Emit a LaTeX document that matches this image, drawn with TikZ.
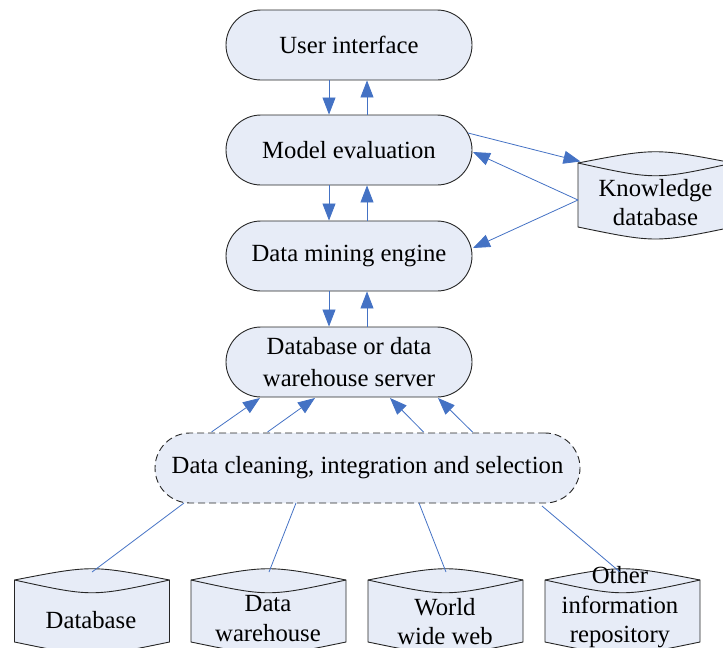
\documentclass[tikz,border=0pt]{standalone}
\usepackage{fontspec}
\setmainfont{Liberation Serif}
\usetikzlibrary{arrows.meta,calc}
\definecolor{lnblue}{RGB}{68,114,196}
\definecolor{boxfill}{RGB}{231,236,247}
\begin{document}
\begin{tikzpicture}[x=1pt,y=-1pt,
  txt/.style={font=\fontsize{24.7}{30}\selectfont, align=center, inner sep=0pt},
  box/.style={txt, draw=black!85, fill=boxfill, rounded corners=35pt, minimum width=246pt, minimum height=70pt, line width=0.9pt},
  dbox/.style={box, dash pattern=on 7pt off 4pt, minimum width=425pt},
  cyl/.style={draw=black!85, fill=boxfill, line width=0.9pt},
  conn/.style={draw=lnblue, line width=0.8pt},
  arr/.style={conn, -{Triangle[length=17pt,width=13pt]}}]
\useasboundingbox (0,0) rectangle (723,648);
\clip (0,0) rectangle (723,648);
% main boxes
\node[box] (ui) at (349,45) {User interface};
\node[box] (me) at (349,150) {Model evaluation};
\node[box] (dm) at (349,256) {Data mining engine};
\node[box, font=\fontsize{24.7}{32}\selectfont] (sv) at (349,362) {Database or data\\warehouse server};
\node[dbox] (cl) at (367.5,468) {Data cleaning, integration and selection};
% cylinders
\foreach \cx/\T/\B in {655.5/163/227, 92/580/642, 268.5/580/642, 445.5/580/642, 622.5/580/642}{
  \path[cyl] (\cx-77.5,\T) .. controls (\cx,\T-15) .. (\cx+77.5,\T) -- (\cx+77.5,\B)
     .. controls (\cx,\B+16) .. (\cx-77.5,\B) -- cycle;
  \draw[cyl, fill=none] (\cx-77.5,\T) .. controls (\cx,\T+17) .. (\cx+77.5,\T);
}
\node[txt, font=\fontsize{24.7}{29}\selectfont] (kd) at (655.5,202.5) {Knowledge\\database};
\node[txt] (db) at (91,620) {Database};
\node[txt] (dw) at (268,619) {Data\\warehouse};
\node[txt, font=\fontsize{24.7}{29}\selectfont] (ww) at (445,621.5) {World\\wide web};
\node[txt, font=\fontsize{24.7}{29.5}\selectfont] (oi) at (620,607.5) {Other\\information\\repository};
\coordinate (dbt) at (92,572);
\coordinate (dwt) at (269,572);
\coordinate (wwt) at (446,572);
\coordinate (oit) at (620,572);
% vertical arrows
\foreach \u/\l in {ui/me, me/dm, dm/sv}{
  \draw[arr] ($(\u.south)+(-20,0)$) -- ($(\l.north)+(-20,0)$);
  \draw[arr] ($(\l.north)+(18,0)$) -- ($(\u.south)+(18,0)$);
}
% knowledge arrows
\draw[arr] ($(me.center)+(119,-17)$) -- ($(kd.center)+(-75,-41)$);
\draw[arr] ($(kd.center)+(-77.5,-2.5)$) -- ($(me.center)+(124,2)$);
\draw[arr] ($(kd.center)+(-77.5,-2.5)$) -- ($(dm.center)+(124,-8)$);
% cleaning to server
\draw[arr] ($(cl.center)+(-156,-36)$) -- ($(sv.center)+(-89,36)$);
\draw[arr] ($(cl.center)+(-100,-36)$) -- ($(sv.center)+(-34,36)$);
\draw[arr] ($(cl.center)+(56,-36)$) -- ($(sv.center)+(41,36)$);
\draw[arr] ($(cl.center)+(105,-36)$) -- ($(sv.center)+(89,36)$);
% sources to cleaning
\draw[conn] ($(cl.center)+(-183.5,35)$) -- (dbt);
\draw[conn] ($(cl.center)+(-71.5,35)$) -- (dwt);
\draw[conn] ($(cl.center)+(51.5,35)$) -- (wwt);
\draw[conn] ($(cl.center)+(174.5,38)$) -- (oit);
\end{tikzpicture}
\end{document}
